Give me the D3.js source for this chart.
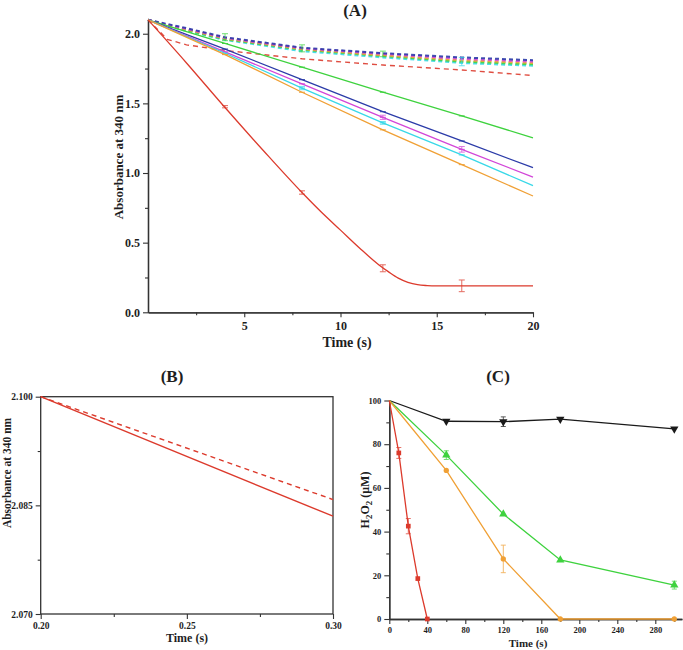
<!DOCTYPE html>
<html><head><meta charset="utf-8">
<script src="https://cdn.jsdelivr.net/npm/d3@7"></script>
<style>
body{margin:0;background:#fff;}
svg text{font-family:"Liberation Serif","DejaVu Serif",serif !important;font-weight:bold;fill:#1e1e1e;}
</style></head>
<body>
<svg id="c" width="683" height="650"></svg>
<script>
// ---------- Panel A data ----------
const tLin = [0, 4, 8, 12.2, 16.3, 20];
const aGreen   = [2.1, 1.93, 1.76, 1.58, 1.41, 1.253];
const aBlue    = [2.1, 1.89, 1.67, 1.44, 1.23, 1.038];
const aMagenta = [2.1, 1.87, 1.64, 1.40, 1.17, 0.971];
const aCyan    = [2.1, 1.86, 1.61, 1.36, 1.13, 0.909];
const aOrange  = [2.1, 1.85, 1.58, 1.31, 1.06, 0.835];
const tRed = [0, 2, 4, 6, 8, 9, 10, 11, 12, 12.5, 13, 13.5, 14, 14.5, 15, 17, 20];
const aRed = [2.1, 1.79, 1.47, 1.16, 0.86, 0.72, 0.59, 0.46, 0.34, 0.29, 0.245, 0.215, 0.198, 0.192, 0.19, 0.19, 0.19];
const tDash = [0, 1, 2, 4, 8, 12.2, 16.3, 20];
const dRed     = [2.1, 1.96, 1.92, 1.88, 1.82, 1.775, 1.74, 1.70];
const dBlue    = [2.1, 2.07, 2.04, 1.975, 1.90, 1.86, 1.83, 1.81];
const dMagenta = [2.1, 2.065, 2.035, 1.97, 1.895, 1.855, 1.82, 1.80];
const dOrange  = [2.1, 2.06, 2.03, 1.965, 1.89, 1.845, 1.81, 1.79];
const dGreen   = [2.1, 2.06, 2.025, 1.96, 1.885, 1.84, 1.80, 1.78];
const dCyan    = [2.1, 2.055, 2.02, 1.955, 1.875, 1.83, 1.79, 1.77];
const xTicksA = [5, 10, 15, 20];
const yTicksA = [0, 0.5, 1.0, 1.5, 2.0];

// ---------- Panel B data ----------
const tB = [0.2, 0.3];
const bSolid  = [2.1, 2.0835];
const bDashed = [2.1, 2.0858];
const xTicksB = [0.20, 0.25, 0.30];
const yTicksB = [2.070, 2.085, 2.100];

// ---------- Panel C data ----------
const tBlack = [0, 60, 120, 180, 300];
const cBlack = [100, 90.5, 90.3, 91.5, 87];
const tRedC = [0, 10, 20, 30, 40];
const cRed = [100, 76, 42.5, 18.5, 0];
const tOrangeC = [0, 60, 120, 180, 300];
const cOrange = [100, 68, 27.5, 0, 0];
const tGreenC = [0, 60, 120, 180, 300];
const cGreen = [100, 75, 48, 27, 15.5];
const xTicksC = [0, 40, 80, 120, 160, 200, 240, 280];
const yTicksC = [0, 20, 40, 60, 80, 100];

const col = {red:"#dc3a2c", orange:"#f0a035", cyan:"#38d8e8", magenta:"#d246d8", blue:"#2b3ba8", green:"#3ed23e", black:"#1a1a1a"};
const FONT = "Liberation Serif";

const svg = d3.select("#c");
const axisCol = "#333";

function styleAxis(g, fs){
  g.attr("font-family", FONT).attr("font-weight", "bold");
  g.selectAll(".domain").attr("stroke", axisCol).attr("stroke-width", 1.3);
  g.selectAll(".tick line").attr("stroke", axisCol).attr("stroke-width", 1.1);
  g.selectAll(".tick text").attr("font-size", fs).attr("font-family", FONT).attr("fill", "#1e1e1e");
}
function label(g, x, y, fs, txt, rot){
  return g.append("text").attr("transform", `translate(${x},${y})` + (rot ? " rotate(-90)" : ""))
    .attr("text-anchor", "middle").attr("font-size", fs).attr("font-family", FONT).attr("font-weight", "bold").text(txt);
}

// ================= Panel A =================
const xA = d3.scaleLinear().domain([0, 20]).range([148, 533]);
const yA = d3.scaleLinear().domain([0, 2.1]).range([312.3, 19.8]);
const gA = svg.append("g");

gA.append("g").attr("transform", "translate(0,312.3)")
  .call(d3.axisBottom(xA).tickValues([2.5, 7.5, 12.5, 17.5]).tickSize(3).tickSizeOuter(0).tickFormat(""))
  .call(g => styleAxis(g, 11));
gA.append("g").attr("transform", "translate(148,0)")
  .call(d3.axisLeft(yA).tickValues([0.25, 0.75, 1.25, 1.75]).tickSize(3).tickSizeOuter(0).tickFormat(""))
  .call(g => styleAxis(g, 11));
gA.append("g").attr("transform", "translate(0,312.3)")
  .call(d3.axisBottom(xA).tickValues(xTicksA).tickSize(5).tickSizeOuter(0).tickPadding(4).tickFormat(d3.format("d")))
  .call(g => styleAxis(g, 12));
gA.append("g").attr("transform", "translate(148,0)")
  .call(d3.axisLeft(yA).tickValues(yTicksA).tickSize(5).tickSizeOuter(0).tickPadding(3).tickFormat(d3.format(".1f")))
  .call(g => styleAxis(g, 12));

label(gA, 355, 16, 17, "(A)");
label(gA, 347, 347, 14, "Time (s)");
label(gA, 123, 157, 13, "Absorbance at 340 nm", true);

const lineA = d3.line().x(d => xA(d[0])).y(d => yA(d[1]));
const zip = (t, v) => t.map((d, i) => [d, v[i]]);

const dashedSeries = [
  [dRed, col.red, "5,4", 1.4],
  [dCyan, col.cyan, "4,3", 2],
  [dGreen, col.green, "4,3", 2],
  [dOrange, col.orange, "4,3", 2],
  [dMagenta, col.magenta, "4,3", 2],
  [dBlue, col.blue, "4,3", 2]
];
dashedSeries.forEach(([v, c, da, w]) => {
  gA.append("path").datum(zip(tDash, v)).attr("d", lineA)
    .attr("fill", "none").attr("stroke", c).attr("stroke-width", w).attr("stroke-dasharray", da).attr("opacity", 0.9);
});

const solidSeries = [
  [aGreen, col.green], [aBlue, col.blue], [aMagenta, col.magenta], [aCyan, col.cyan], [aOrange, col.orange]
];
solidSeries.forEach(([v, c]) => {
  gA.append("path").datum(zip(tLin, v)).attr("d", lineA)
    .attr("fill", "none").attr("stroke", c).attr("stroke-width", 1.3);
  zip(tLin, v).slice(1, 5).forEach(p => {
    gA.append("line").attr("x1", xA(p[0]) - 3).attr("x2", xA(p[0]) + 3)
      .attr("y1", yA(p[1])).attr("y2", yA(p[1])).attr("stroke", c).attr("stroke-width", 1);
  });
});
gA.append("path").datum(zip(tRed, aRed)).attr("d", d3.line().x(d => xA(d[0])).y(d => yA(d[1])).curve(d3.curveMonotoneX))
  .attr("fill", "none").attr("stroke", col.red).attr("stroke-width", 1.3);

const errA = [
  [4, 1.476, 0.008, col.red], [8, 0.86, 0.012, col.red], [12.2, 0.316, 0.025, col.red], [16.3, 0.19, 0.042, col.red],
  [4, 1.975, 0.025, col.green], [8, 1.895, 0.025, col.green], [12.2, 1.855, 0.02, col.green], [16.3, 1.80, 0.03, col.cyan],
  [12.2, 1.40, 0.015, col.magenta], [16.3, 1.17, 0.02, col.magenta], [12.2, 1.36, 0.01, col.cyan], [8, 1.61, 0.012, col.cyan]
];
errA.forEach(([t, v, e, c]) => {
  const g = gA.append("g").attr("stroke", c).attr("stroke-width", 1).attr("opacity", 0.75);
  g.append("line").attr("x1", xA(t)).attr("x2", xA(t)).attr("y1", yA(v - e)).attr("y2", yA(v + e));
  [v - e, v + e].forEach(y => g.append("line").attr("x1", xA(t) - 3).attr("x2", xA(t) + 3).attr("y1", yA(y)).attr("y2", yA(y)));
});

// ================= Panel B =================
const xB = d3.scaleLinear().domain([0.2, 0.3]).range([40.7, 333]);
const yB = d3.scaleLinear().domain([2.07, 2.1]).range([614, 396.7]);
const gB = svg.append("g");
gB.append("g").attr("transform", "translate(0,614)")
  .call(d3.axisBottom(xB).tickValues([0.225, 0.275]).tickSize(3).tickSizeOuter(0).tickFormat(""))
  .call(g => styleAxis(g, 9));
gB.append("g").attr("transform", "translate(40.7,0)")
  .call(d3.axisLeft(yB).tickValues([2.0775, 2.0925]).tickSize(3).tickSizeOuter(0).tickFormat(""))
  .call(g => styleAxis(g, 9));
gB.append("g").attr("transform", "translate(0,614)")
  .call(d3.axisBottom(xB).tickValues(xTicksB).tickSize(5).tickSizeOuter(0).tickPadding(3).tickFormat(d3.format(".2f")))
  .call(g => styleAxis(g, 9.5));
gB.append("g").attr("transform", "translate(40.7,0)")
  .call(d3.axisLeft(yB).tickValues(yTicksB).tickSize(5).tickSizeOuter(0).tickPadding(3).tickFormat(d3.format(".3f")))
  .call(g => styleAxis(g, 9.5));
gB.selectAll(".domain").remove();
gB.append("rect").attr("x", 40.7).attr("y", 396.7).attr("width", 333 - 40.7).attr("height", 614 - 396.7)
  .attr("fill", "none").attr("stroke", axisCol).attr("stroke-width", 1.3);
label(gB, 172, 382, 17, "(B)");
label(gB, 187, 642, 12, "Time (s)");
label(gB, 11, 473, 11.5, "Absorbance at 340 nm", true);
const lineB = d3.line().x(d => xB(d[0])).y(d => yB(d[1]));
gB.append("path").datum(zip(tB, bSolid)).attr("d", lineB).attr("fill", "none").attr("stroke", col.red).attr("stroke-width", 1.4);
gB.append("path").datum(zip(tB, bDashed)).attr("d", lineB).attr("fill", "none").attr("stroke", col.red).attr("stroke-width", 1.4).attr("stroke-dasharray", "5,4");

// ================= Panel C =================
const xC = d3.scaleLinear().domain([0, 308]).range([389.3, 681.9]);
const yC = d3.scaleLinear().domain([0, 100]).range([619, 400.5]);
const gC = svg.append("g");
gC.append("g").attr("transform", "translate(0,619)")
  .call(d3.axisBottom(xC).tickValues([20, 60, 100, 140, 180, 220, 260, 300]).tickSize(3).tickSizeOuter(0).tickFormat(""))
  .call(g => styleAxis(g, 8));
gC.append("g").attr("transform", "translate(389.3,0)")
  .call(d3.axisLeft(yC).tickValues([10, 30, 50, 70, 90]).tickSize(3).tickSizeOuter(0).tickFormat(""))
  .call(g => styleAxis(g, 8));
gC.append("g").attr("transform", "translate(0,619)")
  .call(d3.axisBottom(xC).tickValues(xTicksC).tickSize(5).tickSizeOuter(0).tickPadding(3).tickFormat(d3.format("d")))
  .call(g => styleAxis(g, 8.5));
gC.append("g").attr("transform", "translate(389.3,0)")
  .call(d3.axisLeft(yC).tickValues(yTicksC).tickSize(5).tickSizeOuter(0).tickPadding(3).tickFormat(d3.format("d")))
  .call(g => styleAxis(g, 8.5));
label(gC, 498, 382, 17, "(C)");
label(gC, 528, 647, 11, "Time (s)");
const yl = label(gC, 369, 500, 12, "", true);
yl.append("tspan").text("H");
yl.append("tspan").attr("dy", 3).attr("font-size", 9).text("2");
yl.append("tspan").attr("dy", -3).text("O");
yl.append("tspan").attr("dy", 3).attr("font-size", 9).text("2");
yl.append("tspan").attr("dy", -3).text(" (μM)");

const lineC = d3.line().x(d => xC(d[0])).y(d => yC(d[1]));
const seriesC = [
  [tBlack, cBlack, col.black, d3.symbolTriangle, 180],
  [tGreenC, cGreen, col.green, d3.symbolTriangle, 0],
  [tOrangeC, cOrange, col.orange, d3.symbolCircle, 0],
  [tRedC, cRed, col.red, d3.symbolSquare, 0]
];
const errC = [
  [120, 90.3, 2.2, col.black], [60, 75, 2, col.green], [300, 15.5, 1.8, col.green],
  [120, 27.5, 6.3, col.orange], [20, 42.5, 3.5, col.red], [10, 76, 2.5, col.red]
];
errC.forEach(([t, v, e, c]) => {
  const g = gC.append("g").attr("stroke", c).attr("stroke-width", 0.9).attr("opacity", 0.8);
  g.append("line").attr("x1", xC(t)).attr("x2", xC(t)).attr("y1", yC(v - e)).attr("y2", yC(v + e));
  [v - e, v + e].forEach(y => g.append("line").attr("x1", xC(t) - 2.5).attr("x2", xC(t) + 2.5).attr("y1", yC(y)).attr("y2", yC(y)));
});
seriesC.forEach(([t, v, c, sym, rot]) => {
  const pts = zip(t, v);
  gC.append("path").datum(pts).attr("d", lineC).attr("fill", "none").attr("stroke", c).attr("stroke-width", 1.3);
  gC.selectAll(null).data(pts.slice(1)).enter().append("path")
    .attr("d", d3.symbol().type(sym).size(sym === d3.symbolTriangle ? 30 : 22))
    .attr("transform", d => `translate(${xC(d[0])},${yC(d[1])}) rotate(${rot})`)
    .attr("fill", c);
});
</script>
</body></html>
